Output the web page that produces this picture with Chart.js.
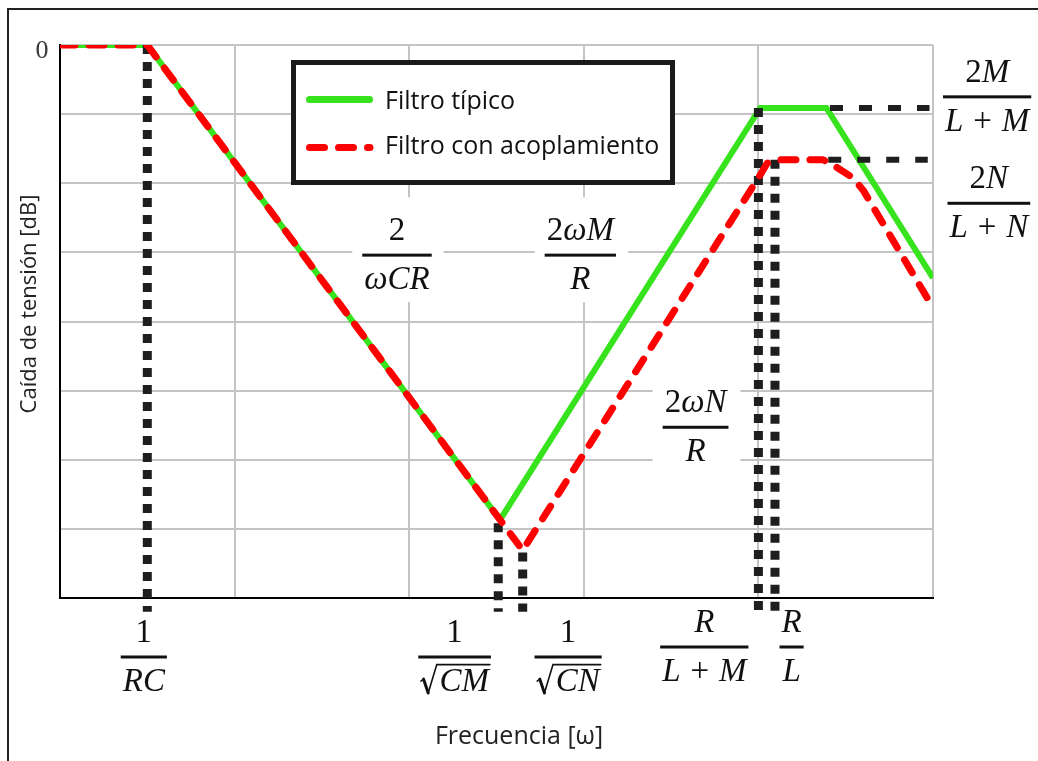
<!DOCTYPE html>
<html>
<head>
<meta charset="utf-8">
<script src="https://cdn.jsdelivr.net/npm/chart.js@4.4.0/dist/chart.umd.min.js"></script>
<style>
  html, body { margin: 0; padding: 0; background: #fff; overflow: hidden; }
  #wrap { width: 1038px; height: 761px; position: relative; }
</style>
</head>
<body>
<div id="wrap"><canvas id="c" width="1038" height="761"></canvas></div>
<script>
// Frequency in decade units along the axis, voltage drop in grid units (0 = top)
const typicalFreq = [0, 0.5, 2.52, 4.01, 4.39, 5.0];
const typicalDrop = [0, 0, -6.87, -0.91, -0.91, -3.37];
const coupledFreq = [0, 0.5, 2.65, 4.01, 4.05, 4.11, 4.37, 4.43, 4.54, 4.60, 5.0];
const coupledDrop = [0, 0, -7.31, -1.88, -1.71, -1.66, -1.66, -1.74, -1.92, -2.10, -3.80];

// Corner-frequency markers: frequency and the drop where each marker starts
const cornerFreqs = [0.5, 2.51, 2.65, 4.0, 4.095];
const cornerTops = [0, -6.92, -7.34, -0.91, -1.66];
const markerBottom = -8.2;

// Plateau-level markers
const plateauLevels = [-0.91, -1.66];
const plateauStart = [4.41, 4.40];
const plateauEnd = [4.98, 4.97];

const seriesNames = ['Filtro típico', 'Filtro con acoplamiento'];
const xTitle = 'Frecuencia [ω]';
const yTitle = 'Caída de tensión [dB]';
const yTickValues = [0];
const yTickLabels = ['0'];

// Fractions written under the frequency axis
const xLabelFreqs = [0.48, 2.26, 2.91, 3.69, 4.19];
const xLabelNums = ['1', '1', '1', 'R', 'R'];
const xLabelDens = ['RC', '√CM', '√CN', 'L + M', 'L'];

// Slope and level annotations, anchored at [frequency, drop] of the fraction bar
const noteFreqs = [1.93, 2.98, 3.64, 5.31, 5.32];
const noteDrops = [-3.04, -3.04, -5.53, -0.75, -2.29];
const noteNums = ['2', '2ωM', '2ωN', '2M', '2N'];
const noteDens = ['ωCR', 'R', 'R', 'L + M', 'L + N'];

const GREEN = '#36e31d';
const RED = '#ff0000';
const INK = '#1e1e1e';
const MATH_FONT = '"Liberation Serif", "DejaVu Serif", serif';
const TEXT_FONT = '"Open Sans", "Noto Sans", sans-serif';
const MATH_SIZE = 33;

const toPoints = (xs, ys) => xs.map((x, i) => ({ x, y: ys[i] }));

// ---- math text helpers ----
function charFont(ch, size) {
  const italic = /[A-Za-zω]/.test(ch);
  return (italic ? 'italic ' : '') + size + 'px ' + MATH_FONT;
}
function charAdvance(ctx, ch, size) {
  if (ch === ' ') return size * 0.3;
  if (ch === '√') return size * 0.58;
  ctx.font = charFont(ch, size);
  return ctx.measureText(ch).width;
}
function mathWidth(ctx, str, size) {
  let w = 0;
  for (const ch of str) w += charAdvance(ctx, ch, size);
  return w;
}
function drawMath(ctx, str, cx, baseline, size) {
  const w = mathWidth(ctx, str, size);
  let x = cx - w / 2;
  let radStart = null;
  ctx.textAlign = 'left';
  ctx.textBaseline = 'alphabetic';
  for (const ch of str) {
    const adv = charAdvance(ctx, ch, size);
    if (ch === '√') {
      radStart = x;
    } else if (ch !== ' ') {
      ctx.font = charFont(ch, size);
      ctx.fillText(ch, x, baseline);
    }
    x += adv;
  }
  if (radStart !== null) {
    const s = size, b = baseline, x0 = radStart;
    const top = b - 0.80 * s;
    ctx.save();
    ctx.lineJoin = 'miter';
    ctx.lineWidth = 1.6;
    ctx.beginPath();
    ctx.moveTo(x0 + 0.02 * s, b - 0.30 * s);
    ctx.lineTo(x0 + 0.10 * s, b - 0.36 * s);
    ctx.stroke();
    ctx.lineWidth = 3;
    ctx.beginPath();
    ctx.moveTo(x0 + 0.10 * s, b - 0.36 * s);
    ctx.lineTo(x0 + 0.24 * s, b + 0.06 * s);
    ctx.stroke();
    ctx.lineWidth = 1.6;
    ctx.beginPath();
    ctx.moveTo(x0 + 0.24 * s, b + 0.06 * s);
    ctx.lineTo(x0 + 0.50 * s, top);
    ctx.lineTo(x + 1, top);
    ctx.stroke();
    ctx.restore();
  }
  return w;
}
function fractionWidth(ctx, num, den, size) {
  return Math.max(mathWidth(ctx, num, size), mathWidth(ctx, den, size)) + 4;
}
function drawFraction(ctx, num, den, cx, barY, size) {
  const w = fractionWidth(ctx, num, den, size);
  drawMath(ctx, num, cx, barY - 15, size);
  drawMath(ctx, den, cx, barY + 34, size);
  ctx.fillRect(cx - w / 2, barY - 1.5, w, 3);
}

// ---- overlay: legend box, annotations, titles, frame ----
const overlay = {
  id: 'overlay',
  beforeDatasetsDraw(chart) {
    const { ctx, scales: { x, y } } = chart;
    ctx.save();
    ctx.fillStyle = '#fff';
    // white panels behind the slope annotations inside the plot
    noteFreqs.forEach((f, i) => {
      if (f > x.max) return;
      const cx = x.getPixelForValue(f);
      const barY = y.getPixelForValue(noteDrops[i]);
      const w = fractionWidth(ctx, noteNums[i], noteDens[i], MATH_SIZE);
      ctx.fillRect(cx - w / 2 - 10, barY - 58, w + 22, 105);
    });
    // legend panel
    ctx.fillRect(293.5, 62.5, 379, 120);
    ctx.restore();
  },
  afterDraw(chart) {
    const { ctx, scales: { x, y } } = chart;
    ctx.save();

    // legend
    ctx.strokeStyle = '#1a1a1a';
    ctx.lineWidth = 5;
    ctx.strokeRect(293.5, 62.5, 379, 120);
    ctx.lineCap = 'round';
    ctx.lineWidth = 7;
    ctx.strokeStyle = GREEN;
    ctx.beginPath(); ctx.moveTo(309.5, 99.5); ctx.lineTo(369.5, 99.5); ctx.stroke();
    ctx.strokeStyle = RED;
    ctx.setLineDash([15, 14]);
    ctx.beginPath(); ctx.moveTo(309.5, 147.5); ctx.lineTo(370, 147.5); ctx.stroke();
    ctx.setLineDash([]);
    ctx.fillStyle = '#111';
    ctx.font = '25px ' + TEXT_FONT;
    ctx.textAlign = 'left';
    ctx.textBaseline = 'middle';
    ctx.fillText(seriesNames[0], 385, 102);
    ctx.fillText(seriesNames[1], 385, 147);

    // tick label on the drop axis
    ctx.font = '26px ' + MATH_FONT;
    ctx.fillStyle = '#3a3a3a';
    ctx.textAlign = 'center';
    yTickValues.forEach((v, i) => {
      ctx.fillText(yTickLabels[i], 42, y.getPixelForValue(v) + 6);
    });

    // fractions under the frequency axis
    ctx.fillStyle = '#111';
    ctx.strokeStyle = '#111';
    const barRows = [657, 657, 657, 647, 647];
    xLabelFreqs.forEach((f, i) => {
      drawFraction(ctx, xLabelNums[i], xLabelDens[i], x.getPixelForValue(f), barRows[i], MATH_SIZE);
    });
    // slope / level annotations
    noteFreqs.forEach((f, i) => {
      drawFraction(ctx, noteNums[i], noteDens[i], x.getPixelForValue(f), y.getPixelForValue(noteDrops[i]), MATH_SIZE);
    });

    // axis titles
    ctx.fillStyle = '#222';
    ctx.textAlign = 'center';
    ctx.textBaseline = 'middle';
    ctx.font = '25px ' + TEXT_FONT;
    ctx.fillText(xTitle, 519, 737);
    ctx.save();
    ctx.translate(30, 304);
    ctx.rotate(-Math.PI / 2);
    ctx.font = '22px ' + TEXT_FONT;
    ctx.fillText(yTitle, 0, 0);
    ctx.restore();

    // page frame
    ctx.strokeStyle = '#222';
    ctx.lineWidth = 2;
    ctx.beginPath();
    ctx.moveTo(8, 761); ctx.lineTo(8, 9); ctx.lineTo(1038, 9);
    ctx.stroke();
    ctx.restore();
  }
};

const markerStyle = {
  borderColor: INK, borderWidth: 9, borderDash: [9, 8], borderCapStyle: 'butt',
  pointRadius: 0, clip: false, order: 1, fill: false
};
const cornerSets = cornerFreqs.map((f, i) => Object.assign({}, markerStyle, {
  label: 'corner' + i,
  data: [{ x: f, y: cornerTops[i] }, { x: f, y: markerBottom }]
}));
const plateauSets = plateauLevels.map((lv, i) => Object.assign({}, markerStyle, {
  label: 'plateau' + i,
  borderWidth: 6, borderDash: [13, 16],
  data: [{ x: plateauStart[i], y: lv }, { x: plateauEnd[i], y: lv }]
}));

const gridOpts = { color: '#c4c4c4', lineWidth: 2, drawTicks: false };
const borderOpts = { color: '#000', width: 2 };

new Chart(document.getElementById('c'), {
  type: 'line',
  data: {
    datasets: [
      {
        label: seriesNames[0],
        data: toPoints(typicalFreq, typicalDrop),
        borderColor: GREEN, borderWidth: 6, pointRadius: 0,
        borderJoinStyle: 'miter', order: 2, fill: false
      },
      ...cornerSets,
      ...plateauSets,
      {
        label: seriesNames[1],
        data: toPoints(coupledFreq, coupledDrop),
        borderColor: RED, borderWidth: 7, pointRadius: 0,
        borderDash: [15, 14], borderCapStyle: 'round', borderJoinStyle: 'round',
        order: 0, fill: false
      }
    ]
  },
  options: {
    responsive: false,
    animation: false,
    devicePixelRatio: 1,
    layout: { padding: { left: 60, top: 45, right: 105, bottom: 163 } },
    plugins: { legend: { display: false }, tooltip: { enabled: false } },
    scales: {
      x: {
        type: 'linear', min: 0, max: 5,
        ticks: { display: false, stepSize: 1 },
        grid: gridOpts, border: borderOpts
      },
      y: {
        type: 'linear', min: -8, max: 0,
        ticks: { display: false, stepSize: 1 },
        grid: gridOpts, border: borderOpts
      }
    }
  },
  plugins: [overlay]
});
</script>
</body>
</html>
